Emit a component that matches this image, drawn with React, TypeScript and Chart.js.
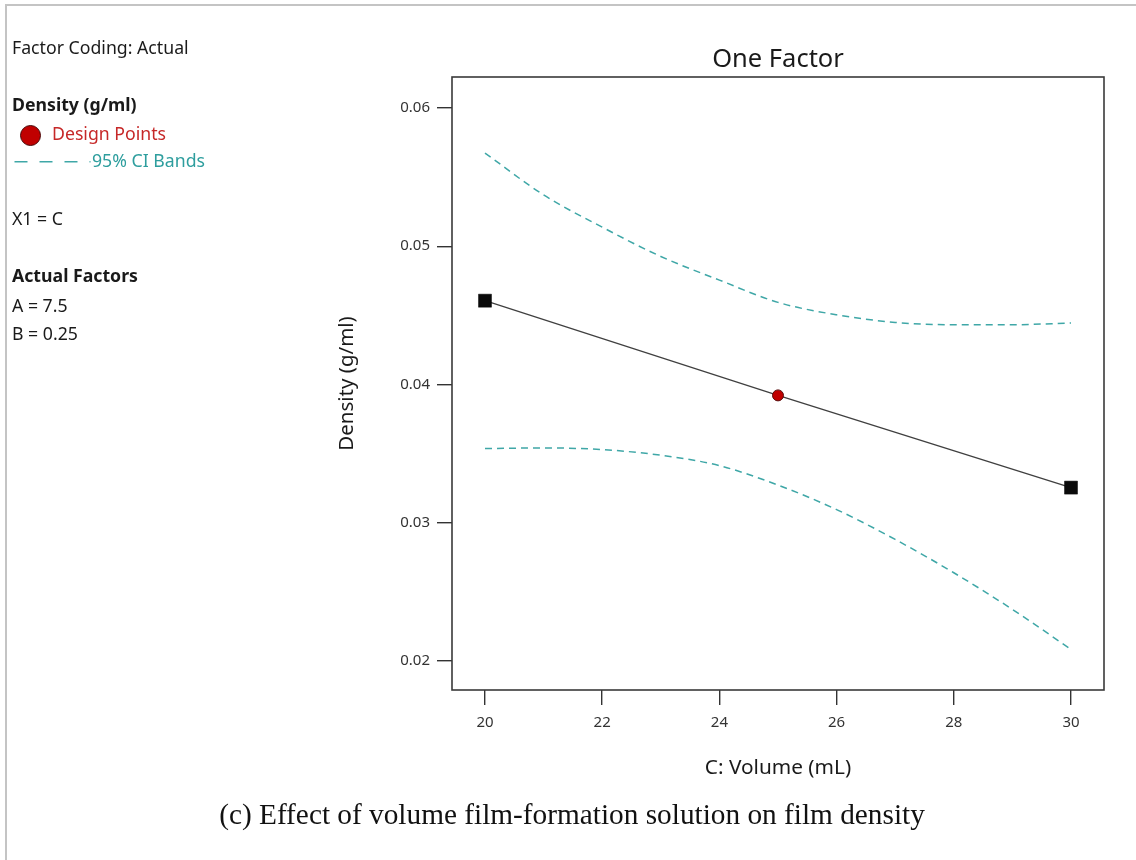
import React, { useEffect, useRef } from "react";
import { Chart, registerables } from "chart.js";

Chart.register(...registerables);

// ---- data ----
const fitX = [20, 25, 30];
const fitY = [0.04606, 0.03921, 0.03254];
const ciX = [20, 21, 22, 23, 24, 25, 26, 27, 28, 29, 30];
const ciUpper = [0.05674, 0.05371, 0.05138, 0.04926, 0.04755, 0.04594, 0.04504, 0.04449, 0.04432, 0.04432, 0.04445];
const ciLower = [0.03536, 0.03541, 0.03529, 0.03488, 0.03413, 0.03272, 0.03095, 0.02879, 0.02638, 0.02373, 0.02084];
const designX = [25];
const designY = [0.03921];
const boundaryX = [20, 30];
const boundaryY = [0.04606, 0.03254];
const xTicks = [20, 22, 24, 26, 28, 30];
const yTicks = [0.02, 0.03, 0.04, 0.05, 0.06];

const chartTitle = "One Factor";
const xTitle = "C: Volume (mL)";
const yTitle = "Density (g/ml)";
const caption = "(c) Effect of volume film-formation solution on film density";

const TEAL = "#3fa7a7";
const SANS = "'Noto Sans', 'Open Sans', sans-serif";

const toPts = (xs: number[], ys: number[]) => xs.map((x, i) => ({ x, y: ys[i] }));

const boxPlugin = {
  id: "plotBox",
  beforeDatasetsDraw(chart: any) {
    const { ctx, chartArea: a } = chart;
    ctx.save();
    ctx.strokeStyle = "#3a3a3a";
    ctx.lineWidth = 1.6;
    ctx.strokeRect(a.left, a.top, a.right - a.left, a.bottom - a.top);
    ctx.restore();
  },
};

function ChartCanvas() {
  const ref = useRef<HTMLCanvasElement | null>(null);
  useEffect(() => {
    if (!ref.current) return;
    const chart = new Chart(ref.current, {
      type: "scatter",
      data: {
        // first dataset is drawn on top
        datasets: [
          {
            label: "Design Points",
            data: toPts(designX, designY),
            showLine: false,
            pointStyle: "circle",
            pointRadius: 5.5,
            backgroundColor: "#c00000",
            borderColor: "#5a1010",
            borderWidth: 1,
          },
          {
            label: "Boundary",
            data: toPts(boundaryX, boundaryY),
            showLine: false,
            pointStyle: "rect",
            pointRadius: 9.2,
            backgroundColor: "#0a0a0a",
            borderColor: "#0a0a0a",
            borderWidth: 0.5,
          },
          {
            label: "Fit",
            data: toPts(fitX, fitY),
            showLine: true,
            borderColor: "#404040",
            borderWidth: 1.3,
            pointRadius: 0,
          },
          {
            label: "Lower CI",
            data: toPts(ciX, ciLower),
            showLine: true,
            borderColor: TEAL,
            borderWidth: 1.5,
            borderDash: [7, 5],
            pointRadius: 0,
            cubicInterpolationMode: "monotone",
          },
          {
            label: "Upper CI",
            data: toPts(ciX, ciUpper),
            showLine: true,
            borderColor: TEAL,
            borderWidth: 1.5,
            borderDash: [7, 5],
            pointRadius: 0,
            cubicInterpolationMode: "monotone",
          },
        ],
      },
      options: {
        animation: false,
        responsive: false,
        devicePixelRatio: 1,
        layout: { padding: { left: 332, right: 32, top: 0, bottom: 70 } },
        plugins: {
          legend: { display: false },
          tooltip: { enabled: false },
          title: {
            display: true,
            text: chartTitle,
            fullSize: false,
            color: "#1a1a1a",
            font: { family: SANS, size: 25.5, weight: "normal", lineHeight: 1.2 },
            padding: { top: 44.7, bottom: 1.7 },
          },
        },
        scales: {
          x: {
            type: "linear",
            min: 19.437,
            max: 30.563,
            afterFit: (s: any) => {
              s.height = 100;
            },
            afterBuildTicks: (s: any) => {
              s.ticks = xTicks.map((v) => ({ value: v }));
            },
            ticks: {
              color: "#333",
              font: { family: SANS, size: 15 },
              padding: 9,
              maxRotation: 0,
              callback: (v: any) => String(v),
            },
            grid: {
              display: true,
              drawOnChartArea: false,
              drawTicks: true,
              tickLength: 15,
              color: "#333",
              lineWidth: 1.4,
            },
            border: { display: false },
            title: {
              display: true,
              text: xTitle,
              color: "#1a1a1a",
              font: { family: SANS, size: 20.8, lineHeight: 1.2 },
              padding: { top: 0, bottom: 9.5 },
            },
          },
          y: {
            type: "linear",
            min: 0.0179,
            max: 0.06224,
            afterFit: (s: any) => {
              s.width = 120;
            },
            afterBuildTicks: (s: any) => {
              s.ticks = yTicks.map((v) => ({ value: v }));
            },
            ticks: {
              color: "#333",
              font: { family: SANS, size: 15 },
              padding: 7,
              callback: (v: any) => Number(v).toFixed(2),
            },
            grid: {
              display: true,
              drawOnChartArea: false,
              drawTicks: true,
              tickLength: 15,
              color: "#333",
              lineWidth: 1.4,
            },
            border: { display: false },
            title: {
              display: true,
              text: yTitle,
              color: "#1a1a1a",
              font: { family: SANS, size: 20.5, lineHeight: 1.2 },
              padding: { top: 3, bottom: 0 },
            },
          },
        },
      },
      plugins: [boxPlugin],
    } as any);
    return () => chart.destroy();
  }, []);
  return (
    <canvas
      ref={ref}
      width={1136}
      height={860}
      style={{ position: "absolute", left: 0, top: 0, width: 1136, height: 860 }}
    />
  );
}

// place a single text line so that its baseline lands at `baseline`
function Line(props: {
  x: number;
  baseline: number;
  size?: number;
  bold?: boolean;
  color?: string;
  children: React.ReactNode;
}) {
  const size = props.size ?? 17.7;
  const lh = Math.round(size * 1.2);
  const top = props.baseline - (lh / 2 + 0.388 * size);
  return (
    <div
      style={{
        position: "absolute",
        left: props.x,
        top,
        fontFamily: SANS,
        fontSize: size,
        lineHeight: `${lh}px`,
        fontWeight: props.bold ? 700 : 400,
        color: props.color ?? "#1a1a1a",
        whiteSpace: "nowrap",
      }}
    >
      {props.children}
    </div>
  );
}

export default function App() {
  return (
    <div style={{ position: "absolute", left: 0, top: 0, width: 1136, height: 860, background: "#fff", overflow: "hidden" }}>
      {/* frame lines */}
      <div
        style={{
          position: "absolute",
          left: 5,
          top: 4,
          width: 1140,
          height: 870,
          borderTop: "2px solid #c4c4c4",
          borderLeft: "2px solid #c4c4c4",
        }}
      />
      <ChartCanvas />
      {/* side annotations */}
      <Line x={12} baseline={54.3}>Factor Coding: Actual</Line>
      <Line x={12} baseline={111.7} bold>Density (g/ml)</Line>
      <div
        style={{
          position: "absolute",
          left: 19.5,
          top: 124.5,
          width: 19,
          height: 19,
          borderRadius: "50%",
          background: "#c00000",
          border: "1px solid #4a0a0a",
        }}
      />
      <Line x={52} baseline={140} color="#c62828">Design Points</Line>
      <svg style={{ position: "absolute", left: 0, top: 155 }} width={95} height={14}>
        <line x1={14.5} y1={6.7} x2={90.5} y2={6.7} stroke={TEAL} strokeWidth={1.5} strokeDasharray="13 12" />
      </svg>
      <Line x={92} baseline={167.7} color="#2e9e9e">95% CI Bands</Line>
      <Line x={12} baseline={225.7}>X1 = C</Line>
      <Line x={12} baseline={282.7} bold>Actual Factors</Line>
      <Line x={12} baseline={312.3}>A = 7.5</Line>
      <Line x={12} baseline={340}>B = 0.25</Line>
      {/* caption */}
      <div
        style={{
          position: "absolute",
          left: 0,
          width: 1144,
          top: 797,
          textAlign: "center",
          fontFamily: "'Liberation Serif', 'Times New Roman', serif",
          fontSize: 29.3,
          lineHeight: "34px",
          color: "#111",
          whiteSpace: "nowrap",
        }}
      >
        {caption}
      </div>
    </div>
  );
}
